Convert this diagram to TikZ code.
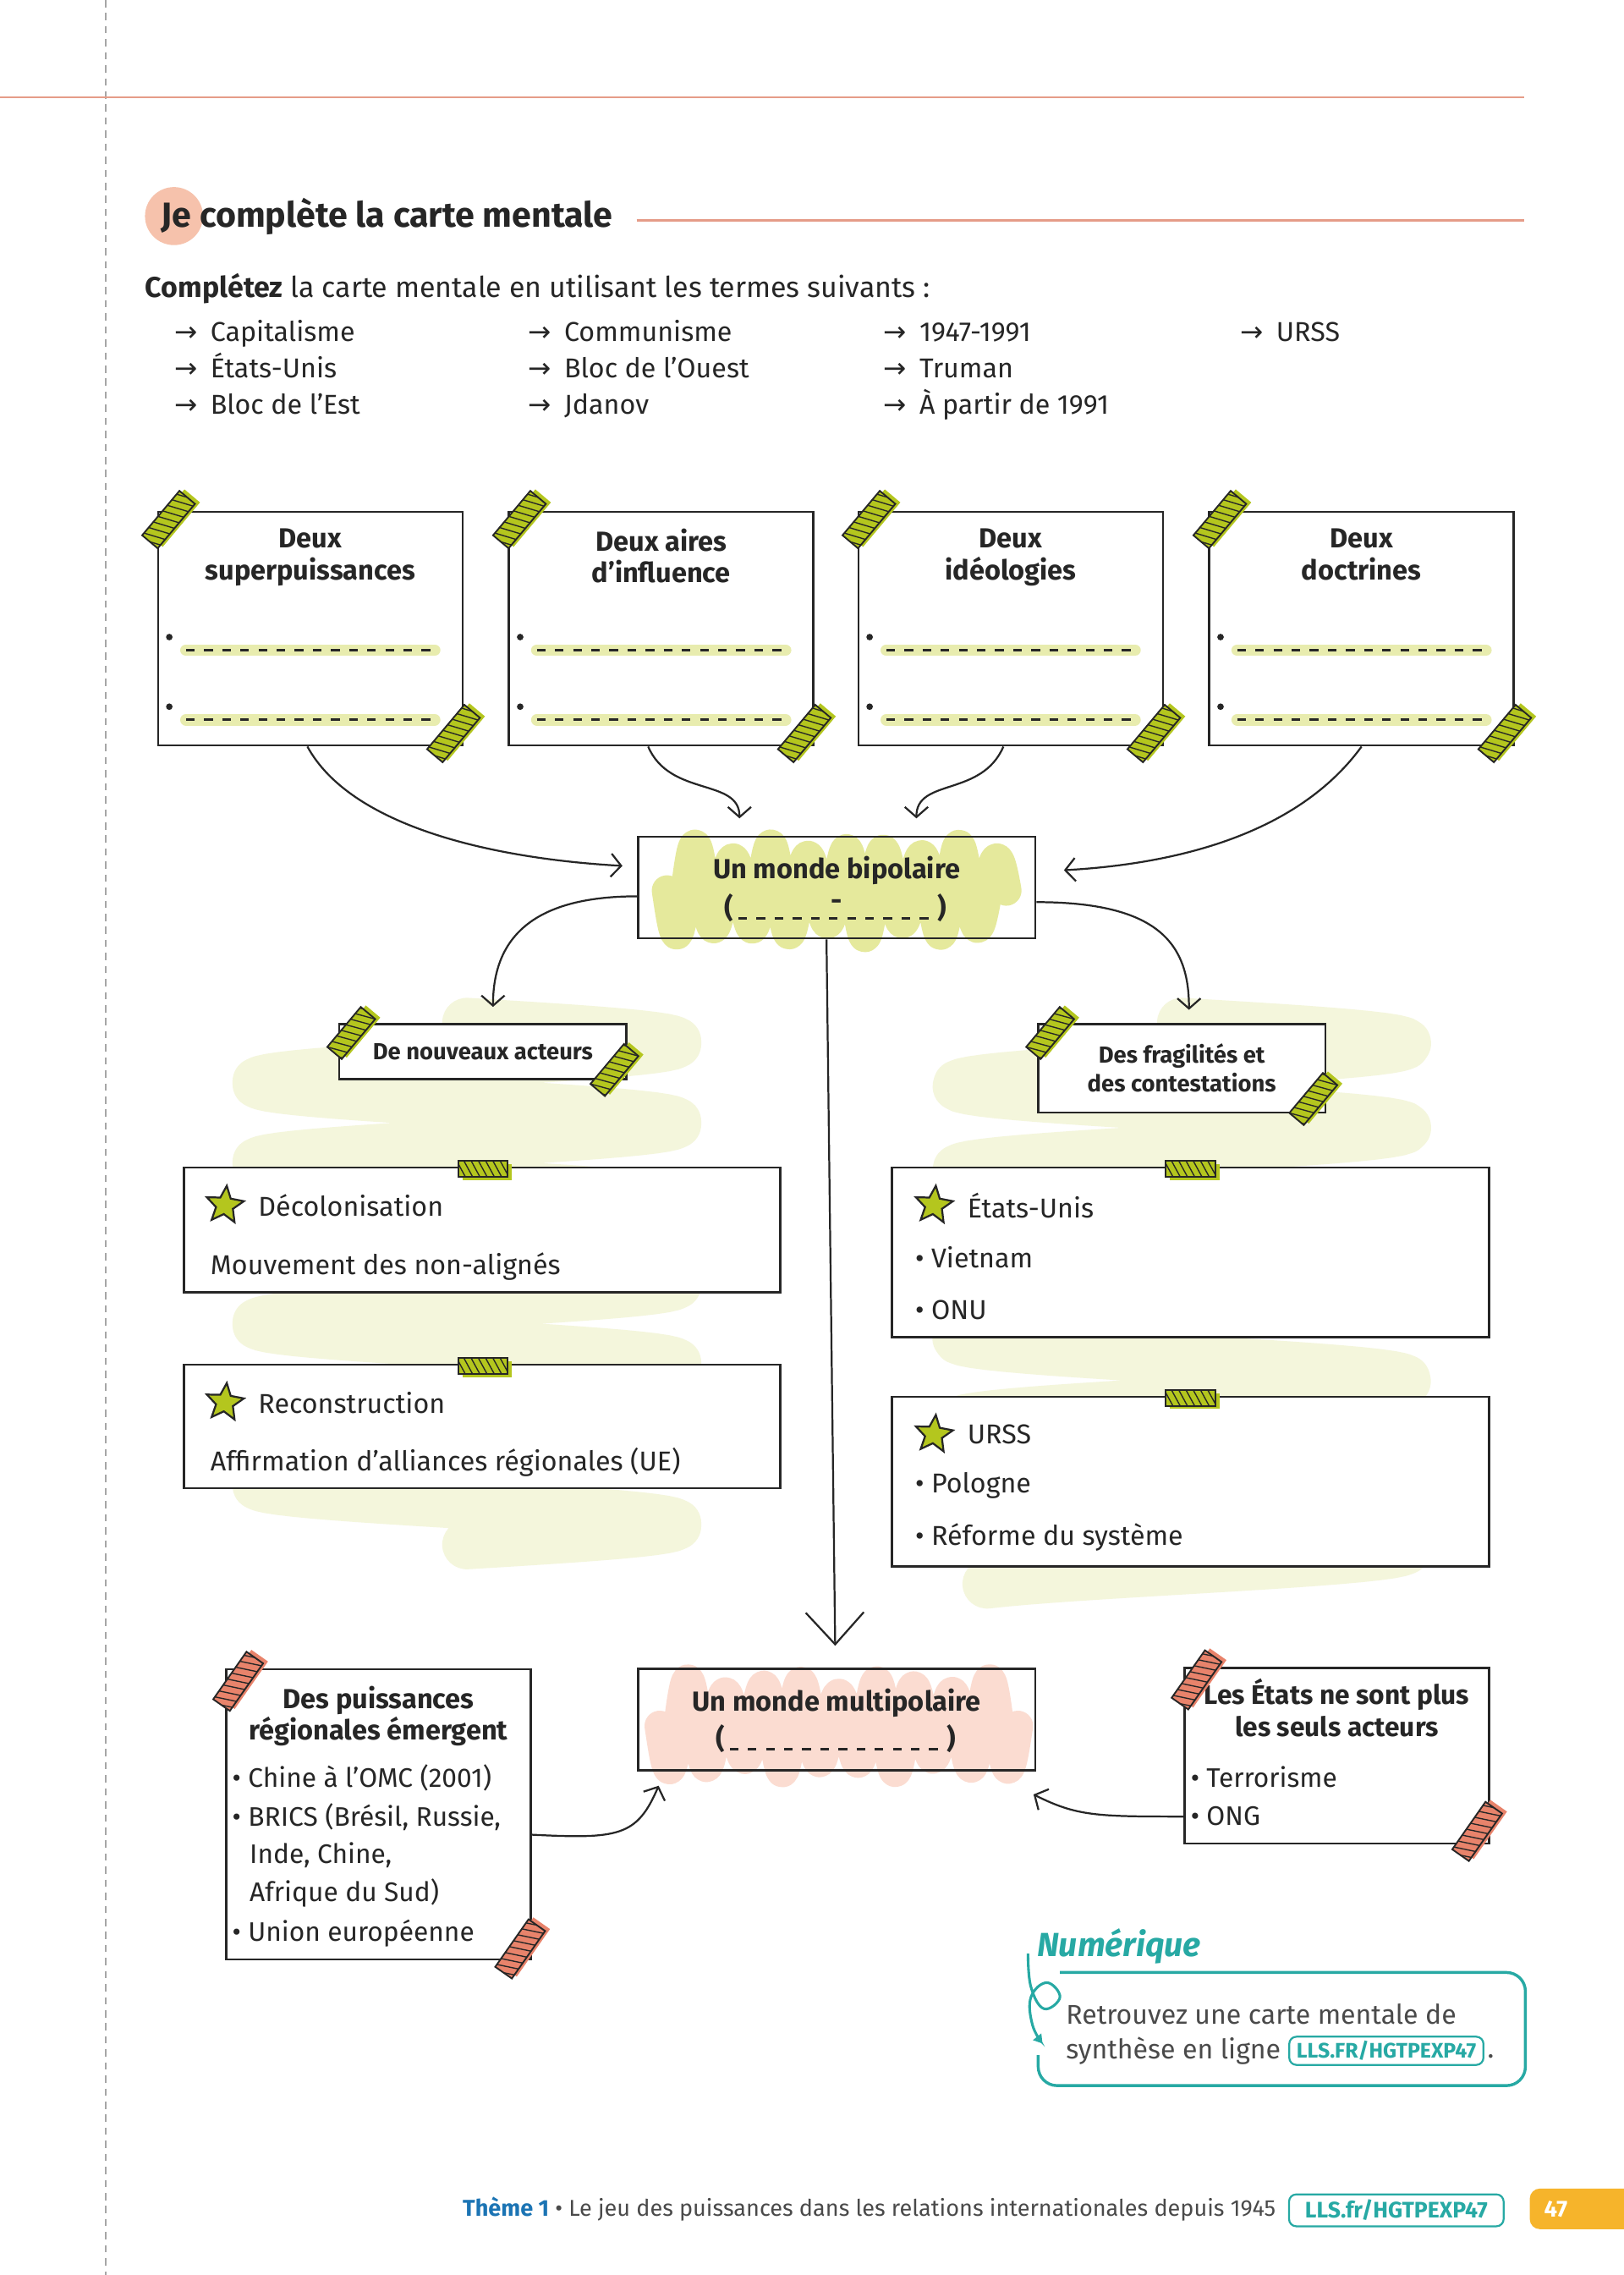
\documentclass[tikz,border=0pt]{standalone}
\usepackage{fontspec}
\setmainfont{Fira Sans}
\newfontfamily\arrowfont{DejaVu Sans}
\usetikzlibrary{shapes.geometric,arrows.meta,positioning}

\definecolor{ink}{HTML}{262626}
\definecolor{tapegreen}{HTML}{B4C61E}
\definecolor{tapesalmon}{HTML}{E8836B}
\definecolor{hlgreen}{HTML}{E8ECAE}
\definecolor{scribgreen}{HTML}{E5E99C}
\definecolor{palegreen}{HTML}{F4F6DC}
\definecolor{scribpink}{HTML}{FBDCD1}
\definecolor{salmonline}{HTML}{E59C88}
\definecolor{salmondisc}{HTML}{F6C2AC}
\definecolor{numteal}{HTML}{27A9A4}
\definecolor{themeblue}{HTML}{1B74B4}
\definecolor{pageorange}{HTML}{F6B42B}
\definecolor{footgray}{HTML}{4A4A4A}

% bout de scotch : centre, angle, couleur, longueur, demi-largeur
\newcommand{\tapestrip}[5]{%
  \begin{scope}[shift={#1},rotate=#2]
    \fill[#3] (-#4/2+3,-#5+2) rectangle (#4/2+3,#5+2);
    \begin{scope}
      \clip (-#4/2,-#5) rectangle (#4/2,#5);
      \fill[#3] (-#4/2,-#5) rectangle (#4/2,#5);
      \foreach \s in {-30,-25,...,30}
        \draw[ink,line width=0.8] (\s-3,-#5) -- (\s+3,#5);
    \end{scope}
    \draw[ink,line width=1.1] (-#4/2,-#5) rectangle (#4/2,#5);
  \end{scope}}

\begin{document}
\begin{tikzpicture}[x=1pt, y=-1pt,
  every node/.style={text=ink},
  bigbox/.style={draw=ink, line width=1.5, fill=white, minimum width=210, minimum height=161, inner sep=0},
  boxtitle/.style={align=center, inner sep=0, font=\bfseries\fontsize{19}{22}\selectfont},
  smallbox/.style={draw=ink, line width=1.5, fill=white, align=center, inner sep=0, font=\bfseries\fontsize{16}{20}\selectfont},
  txtbox/.style={draw=ink, line width=1.5, fill=white, inner sep=0},
  txt/.style={anchor=west, inner sep=0, font=\fontsize{18.8}{22}\selectfont},
  smalltxt/.style={anchor=west, inner sep=0, font=\fontsize{18.5}{20}\selectfont},
  bul/.style={circle, fill=ink, inner sep=0, minimum size=4.5},
  hl/.style={hlgreen, line width=8, line cap=round},
  dashes/.style={ink, line width=1.6, dash pattern=on 6pt off 6.5pt},
  starry/.style={star, star points=5, star point ratio=2.2, minimum size=27, inner sep=0, fill=tapegreen, draw=ink, line width=1.3, rotate=-6},
  arr/.style={draw=ink, line width=1.3, -{Straight Barb[length=7pt,width=16pt]}},
  scrib/.style={line width=21, line cap=round, line join=round},
  pale/.style={palegreen, line width=34, line cap=round, line join=round},
  urlbox/.style={draw=numteal, line width=1.3, rounded corners=5pt, text=numteal, font=\bfseries\fontsize{14.5}{16}\selectfont, inner xsep=5pt, inner ysep=3pt}
]
\fill[white] (0,0) rectangle (1120,1568.6);
\useasboundingbox (0,0) rectangle (1120,1568.6);

% en-tete
\draw[gray!70, line width=1, dash pattern=on 5pt off 4pt] (73,0) -- (73,1568.6);
\draw[salmonline, line width=1.3] (0,67) -- (1051,67);
\fill[salmondisc] (120,149) circle (20);
\node[anchor=west, inner sep=0, font=\bfseries\fontsize{24}{28}\selectfont] (titre) at (111,149) {Je complète la carte mentale};
\draw[salmonline, line width=1.3] (439,152) -- (1051,152);
\node[anchor=west, inner sep=0, font=\fontsize{19.8}{23}\selectfont] (consigne) at (100,199) {\textbf{Complétez} la carte mentale en utilisant les termes suivants :};
\foreach \x/\y/\mot [count=\i] in {120/229/Capitalisme, 120/254/États-Unis, 120/279/Bloc de l’Est,
    364/229/Communisme, 364/254/Bloc de l’Ouest, 364/279/Jdanov,
    609/229/1947-1991, 609/254/Truman, 609/279/À partir de 1991, 855/229/URSS}
  \node[txt, anchor=base west] (terme\i) at (\x,\y+6.5) {{\arrowfont\fontsize{19}{20}\selectfont →}\hspace{9pt}\mot};

% gribouillis de fond
\draw[pale] plot[domain=0:2340, samples=300, variable=\t] ({322+145*sin(\t)}, {705+\t/6.5});
\draw[pale] plot[domain=0:2400, samples=300, variable=\t] ({815+155*sin(\t)}, {705+\t/6.2});
\draw[scrib, scribgreen] plot[domain=0:3240, samples=400, variable=\t] ({460+\t/180*13}, {614+(27+5*sin(\t*0.43))*sin(\t)});
\draw[scrib, scribpink] plot[domain=0:3420, samples=400, variable=\t] ({455+\t/180*13}, {1190+(27+5*sin(\t*0.37))*sin(\t)});

% les quatre cadres du haut
\foreach \n/\x/\ta/\tb in {sup/214/Deux/superpuissances, aires/456/Deux aires/d’influence,
    ideo/697/Deux/idéologies, doct/939/Deux/doctrines}{
  \node[bigbox] (\n) at (\x,433.5) {};
  \node[boxtitle, anchor=north] (\n-titre) at ([yshift=-12pt]\n.north) {\ta\\\tb};
  \node[bul] (\n-b1) at ([xshift=8.5pt,yshift=-87pt]\n.north west) {};
  \node[bul] (\n-b2) at ([xshift=8.5pt,yshift=-135pt]\n.north west) {};
  \draw[hl] ([xshift=20pt,yshift=-96pt]\n.north west) -- ([xshift=-20pt,yshift=-96pt]\n.north east);
  \draw[dashes] ([xshift=20pt,yshift=-96pt]\n.north west) -- ([xshift=-20pt,yshift=-96pt]\n.north east);
  \draw[hl] ([xshift=20pt,yshift=-144pt]\n.north west) -- ([xshift=-20pt,yshift=-144pt]\n.north east);
  \draw[dashes] ([xshift=20pt,yshift=-144pt]\n.north west) -- ([xshift=-20pt,yshift=-144pt]\n.north east);
  \tapestrip{([xshift=8pt,yshift=-6pt]\n.north west)}{50}{tapegreen}{40}{7}
  \tapestrip{([xshift=-7pt,yshift=9pt]\n.south east)}{50}{tapegreen}{40}{7}
}

% monde bipolaire
\node[draw=ink, line width=1.5, minimum width=274, minimum height=70, inner sep=0] (bip) at (577,612) {};
\node[boxtitle] (bip-titre) at (577,600) {Un monde bipolaire};
\node[boxtitle] (bip-po) at (503,626) {(};
\node[boxtitle] (bip-pf) at (650,626) {)};
\node[boxtitle] (bip-tiret) at (577,624) {-};
\draw[dashes] ([xshift=3pt,yshift=-7pt]bip-po.east) -- ([xshift=-3pt,yshift=-7pt]bip-pf.west);

% themes du milieu
\node[smallbox, minimum width=198, minimum height=38] (acteurs) at (333,725) {De nouveaux acteurs};
\tapestrip{([xshift=9pt,yshift=-7pt]acteurs.north west)}{50}{tapegreen}{36}{6.5}
\tapestrip{([xshift=-9pt,yshift=7pt]acteurs.south east)}{50}{tapegreen}{36}{6.5}
\node[smallbox, minimum width=198, minimum height=61] (frag) at (815,736.5) {Des fragilités et\\des contestations};
\tapestrip{([xshift=9pt,yshift=-7pt]frag.north west)}{50}{tapegreen}{36}{6.5}
\tapestrip{([xshift=-9pt,yshift=10pt]frag.south east)}{50}{tapegreen}{36}{6.5}

\node[txtbox, minimum width=411, minimum height=86] (deco) at (332.5,848) {};
\node[starry] (deco-s) at (155,831) {};
\node[txt] (deco-t) at (178,831) {Décolonisation};
\node[txt] (deco-1) at (145,873) {Mouvement des non-alignés};
\tapestrip{(333,806)}{0}{tapegreen}{34}{5.5}

\node[txtbox, minimum width=411, minimum height=85] (recon) at (332.5,983.5) {};
\node[starry] (recon-s) at (155,967) {};
\node[txt] (recon-t) at (178,967) {Reconstruction};
\node[txt] (recon-1) at (145,1008) {Affirmation d’alliances régionales (UE)};
\tapestrip{(333,942)}{0}{tapegreen}{34}{5.5}

\node[txtbox, minimum width=412, minimum height=117] (usa) at (821,863.5) {};
\node[starry] (usa-s) at (644,831) {};
\node[txt] (usa-t) at (667,831) {États-Unis};
\node[txt] (usa-1) at (631,867) {• Vietnam};
\node[txt] (usa-2) at (631,903) {• ONU};
\tapestrip{(821,806)}{0}{tapegreen}{34}{5.5}

\node[txtbox, minimum width=412, minimum height=117] (urss) at (821,1021.5) {};
\node[starry] (urss-s) at (644,989) {};
\node[txt] (urss-t) at (667,989) {URSS};
\node[txt] (urss-1) at (631,1024) {• Pologne};
\node[txt] (urss-2) at (631,1060) {• Réforme du système};
\tapestrip{(821,964)}{0}{tapegreen}{34}{5.5}

% le bas
\node[txtbox, minimum width=210, minimum height=200] (puis) at (261,1251) {};
\node[boxtitle, anchor=north] (puis-titre) at ([yshift=-12pt]puis.north) {Des puissances\\régionales émergent};
\node[smalltxt] (puis-1) at (160,1226) {• Chine à l’OMC (2001)};
\node[smalltxt] (puis-2) at (160,1253) {• BRICS (Brésil, Russie,};
\node[smalltxt] (puis-3) at (172,1279) {Inde, Chine,};
\node[smalltxt] (puis-4) at (172,1305) {Afrique du Sud)};
\node[smalltxt] (puis-5) at (160,1333) {• Union européenne};
\tapestrip{([xshift=9pt,yshift=-9pt]puis.north west)}{55}{tapesalmon}{40}{7}
\tapestrip{([xshift=-8pt,yshift=8pt]puis.south east)}{55}{tapesalmon}{40}{7}

\node[draw=ink, line width=1.5, minimum width=274, minimum height=70, inner sep=0] (multi) at (577,1185.5) {};
\node[boxtitle] (multi-titre) at (577,1174) {Un monde multipolaire};
\node[boxtitle] (multi-po) at (497,1199) {(};
\node[boxtitle] (multi-pf) at (656,1199) {)};
\draw[dashes] ([xshift=3pt,yshift=-7pt]multi-po.east) -- ([xshift=-3pt,yshift=-7pt]multi-pf.west);

\node[txtbox, minimum width=210, minimum height=121] (etats) at (922,1210.5) {};
\node[boxtitle, anchor=north, font=\bfseries\fontsize{18.5}{22}\selectfont] (etats-titre) at ([yshift=-8pt]etats.north) {Les États ne sont plus\\les seuls acteurs};
\node[smalltxt] (etats-1) at (821,1225) {• Terrorisme};
\node[smalltxt] (etats-2) at (821,1252) {• ONG};
\tapestrip{([xshift=9pt,yshift=-9pt]etats.north west)}{55}{tapesalmon}{40}{7}
\tapestrip{([xshift=-9pt,yshift=9pt]etats.south east)}{55}{tapesalmon}{40}{7}

% les fleches
\draw[arr] ([xshift=-2pt]sup.south) .. controls +(30,55) and +(-90,-5) .. ([xshift=-10pt,yshift=15pt]bip.west);
\draw[arr] ([xshift=-9pt]aires.south) .. controls +(15,35) and +(0,-28) .. ([xshift=-67pt,yshift=12pt]bip.north);
\draw[arr] ([xshift=-5pt]ideo.south) .. controls +(-15,35) and +(0,-28) .. ([xshift=55pt,yshift=12pt]bip.north);
\draw[arr] (doct.south) .. controls +(-40,55) and +(90,-5) .. ([xshift=19pt,yshift=12pt]bip.east);
\draw[arr] ([yshift=-6pt]bip.west) .. controls +(-75,0) and +(0,-45) .. ([xshift=7pt,yshift=11pt]acteurs.north);
\draw[arr] ([yshift=-10pt]bip.east) .. controls +(85,0) and +(0,-45) .. ([xshift=5pt,yshift=9pt]frag.north);
\draw[ink, line width=1.3, -{Straight Barb[length=22pt,width=40pt]}] ([xshift=-7pt]bip.south) -- ([xshift=-1pt,yshift=15pt]multi.north);
\draw[arr] ([yshift=-14pt]puis.east) .. controls +(60,3) and +(-15,35) .. ([xshift=15pt,yshift=-10pt]multi.south west);
\draw[arr] ([yshift=-42pt]etats.west) .. controls +(-60,0) and +(30,15) .. ([xshift=-2pt,yshift=-16pt]multi.south east);

% numerique
\node[anchor=west, inner sep=0, text=numteal, font=\bfseries\itshape\fontsize{23}{26}\selectfont] (numtitre) at (715,1342) {Numérique};
\draw[numteal, line width=2, rounded corners=13pt] (731,1360) -- (1052,1360) -- (1052,1438) -- (716,1438) -- (716,1417);
\draw[numteal, line width=1.8, -{Triangle[open, length=6pt, width=7pt]}] plot[smooth, tension=0.7] coordinates {(709,1347) (711,1370) (720,1385) (731,1377) (722,1367) (711,1377) (712,1396) (719,1409)};
\node[anchor=west, inner sep=0, text=footgray, font=\fontsize{18.7}{21}\selectfont] (num1) at (735,1389) {Retrouvez une carte mentale de};
\node[anchor=west, inner sep=0, text=footgray, font=\fontsize{18.7}{21}\selectfont] (num2) at (735,1414) {synthèse en ligne};
\node[urlbox, right=5pt of num2] (numurl) {LLS.FR/HGTPEXP47};
\node[anchor=base west, inner sep=0, text=footgray, font=\fontsize{18.7}{21}\selectfont] (numpt) at ([xshift=2pt]numurl.base east) {.};

% pied de page
\node[anchor=east, inner sep=0, text=footgray, font=\fontsize{15.8}{18}\selectfont] (pied) at (880,1523) {\textcolor{themeblue}{\bfseries Thème 1} • Le jeu des puissances dans les relations internationales depuis 1945};
\node[urlbox, minimum width=148, minimum height=22, inner sep=0, font=\bfseries\fontsize{15.5}{17}\selectfont] (pied-url) at (963,1524) {LLS.fr/HGTPEXP47};
\fill[pageorange, rounded corners=7pt] (1055,1509) rectangle (1135,1537);
\node[text=white, font=\bfseries\fontsize{16}{18}\selectfont] (page) at (1073,1523) {47};
\end{tikzpicture}
\end{document}
